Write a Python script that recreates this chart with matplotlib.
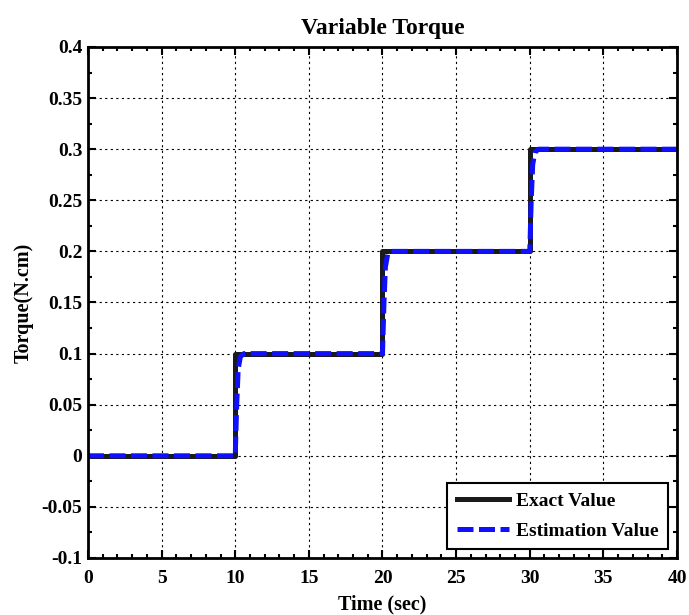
import matplotlib.pyplot as plt
from matplotlib.ticker import MultipleLocator

# exact torque steps
t_exact = [0, 10, 10, 20, 20, 30, 30, 40]
tq_exact = [0, 0, 0.1, 0.1, 0.2, 0.2, 0.3, 0.3]

# estimated torque (short lag after each step)
t_est = [0, 10.0, 10.1, 10.2, 10.35, 10.6, 20.0, 20.1, 20.2, 20.35, 20.6,
         30.0, 30.1, 30.2, 30.35, 30.6, 40]
tq_est = [0, 0, 0.05, 0.085, 0.097, 0.1, 0.1, 0.15, 0.185, 0.197, 0.2,
          0.2, 0.25, 0.285, 0.297, 0.3, 0.3]

plt.rcParams["font.family"] = ["Liberation Serif", "DejaVu Serif"]
plt.rcParams["font.weight"] = "bold"

fig = plt.figure(figsize=(6.89, 6.15), dpi=100)
ax = fig.add_axes([0.1277, 0.0927, 0.8549, 0.8309])

ax.plot(t_exact, tq_exact, color="#1a1a1a", lw=3.6, label="Exact Value")
ax.plot(t_est, tq_est, color="#1010ff", lw=3.6, ls=(0, (3.2, 1.1)),
        label="Estimation Value")

ax.set_xlim(0, 40)
ax.set_ylim(-0.1, 0.4)
ax.xaxis.set_major_locator(MultipleLocator(5))
ax.xaxis.set_minor_locator(MultipleLocator(1))
ax.yaxis.set_major_locator(MultipleLocator(0.05))
ax.yaxis.set_minor_locator(MultipleLocator(0.025))
ax.set_yticklabels([f"{v:g}" for v in ax.get_yticks()])
ax.tick_params(which="both", direction="in", top=True, right=True,
               labelsize=14, width=1.5)
ax.tick_params(which="major", length=6, pad=4)
ax.tick_params(axis="x", which="major", pad=9)
ax.tick_params(which="minor", length=3)
for sp in ax.spines.values():
    sp.set_linewidth(2)
ax.grid(True, which="major", color="black", ls=(0, (2, 3)), lw=0.8)

ax.set_title("Variable Torque", fontsize=17, fontweight="bold", pad=9)
ax.set_xlabel("Time (sec)", fontsize=14.5, fontweight="bold", labelpad=5)
ax.set_ylabel("Torque(N.cm)", fontsize=14.5, fontweight="bold", labelpad=6)

leg = ax.legend(loc="lower right", fontsize=14, handlelength=2.7,
                handletextpad=0.35, fancybox=False, framealpha=1,
                edgecolor="black", borderaxespad=0.45, labelspacing=0.6,
                borderpad=0.5)
leg.get_frame().set_linewidth(1.5)

fig.savefig("out.png", dpi=100)
